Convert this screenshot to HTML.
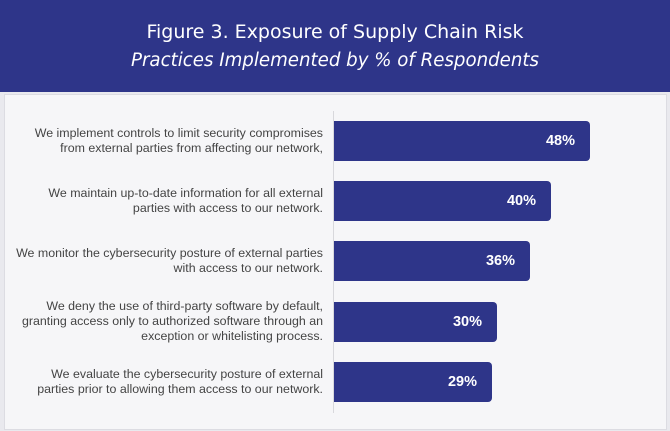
<!DOCTYPE html>
<html><head><meta charset="utf-8"><style>
body{margin:0;width:670px;height:431px;background:#e9e9ee;position:relative;overflow:hidden;font-family:"Liberation Sans",sans-serif}
.hd{position:absolute;left:0;top:0;width:670px;height:92px;background:#2e3589;color:#fff;text-align:center;font-family:"DejaVu Sans","Liberation Sans",sans-serif}
.t1{position:absolute;left:0;right:0;top:21px;font-size:19px;font-weight:normal}
.t2{position:absolute;left:0;right:0;top:50px;font-size:18.2px;font-style:italic}
.pn{position:absolute;left:4px;top:94px;width:661px;height:334px;background:#f6f6f8;border:1px solid #dcdce2}
.ax{position:absolute;left:333px;top:111px;width:1px;height:302px;background:#d8d8dc}
.bar{position:absolute;left:334px;height:40px;background:#2e3589;border-radius:0 4px 4px 0;color:#fff;font-weight:bold;font-size:14.5px;line-height:40px;text-align:right;box-sizing:border-box;padding-right:15px}
.lb{position:absolute;right:347px;width:330px;text-align:right;font-size:12.4px;line-height:15px;color:#444}
</style></head><body>
<div class="hd"><div class="t1">Figure 3. Exposure of Supply Chain Risk</div><div class="t2">Practices Implemented by % of Respondents</div></div>
<div class="pn"></div>
<div class="ax"></div>
<div class="lb" style="top:126px">We implement controls to limit security compromises<br>from external parties from affecting our network,</div>
<div class="bar" style="top:121px;width:256px">48%</div>
<div class="lb" style="top:186px">We maintain up-to-date information for all external<br>parties with access to our network.</div>
<div class="bar" style="top:181px;width:217px">40%</div>
<div class="lb" style="top:246px">We monitor the cybersecurity posture of external parties<br>with access to our network.</div>
<div class="bar" style="top:241px;width:196px">36%</div>
<div class="lb" style="top:299px">We deny the use of third-party software by default,<br>granting access only to authorized software through an<br>exception or whitelisting process.</div>
<div class="bar" style="top:302px;width:163px">30%</div>
<div class="lb" style="top:367px">We evaluate the cybersecurity posture of external<br>parties prior to allowing them access to our network.</div>
<div class="bar" style="top:362px;width:158px">29%</div>
</body></html>
